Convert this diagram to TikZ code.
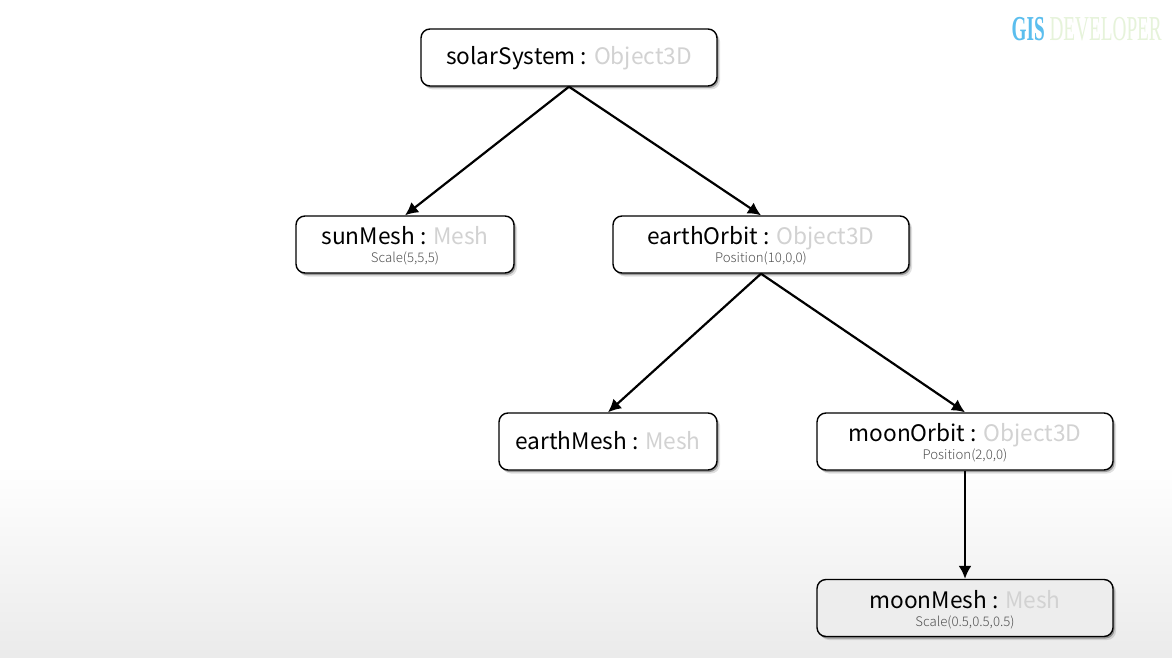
\documentclass[tikz,border=0pt]{standalone}
\usepackage{fontspec}
\setmainfont{Noto Sans CJK KR}
\newfontfamily\subfont{Noto Sans CJK KR Light}
\newfontfamily\wmfont{Liberation Serif}
\usetikzlibrary{arrows.meta,shadows,fadings}
\definecolor{typegray}{HTML}{D2D2D2}
\definecolor{subgray}{HTML}{505050}
\definecolor{wmblue}{HTML}{5BBEEE}
\definecolor{wmgreen}{HTML}{E6F3DA}
\newcommand{\objname}[2]{\rule[-5pt]{0pt}{25pt}\smash{\fontsize{22.7}{26}\selectfont #1 : \textcolor{typegray}{#2}}}
\newcommand{\withsub}[3]{\vbox{\baselineskip=18pt\lineskiplimit=-100pt\halign{\hfil##\hfil\cr
  \rule{0pt}{20pt}\smash{\fontsize{22.7}{26}\selectfont #1 : \textcolor{typegray}{#2}}\cr
  \rule[-2pt]{0pt}{2pt}\smash{\subfont\fontsize{13.2}{16}\selectfont\color{subgray}#3}\cr}}}
\tikzset{
  x=1pt,y=-1pt,
  objbox/.style={draw=black,line width=1.4pt,rounded corners=9pt,fill=white,
    minimum height=57pt,inner sep=0pt,align=center,
    drop shadow={shadow xshift=3pt,shadow yshift=-3.5pt,opacity=.12,fill=black},
    drop shadow={shadow xshift=1.5pt,shadow yshift=-2pt,opacity=.3,fill=black}},
  wide/.style={objbox,minimum width=296pt},
  narrow/.style={objbox,minimum width=218pt},
  link/.style={draw=black,line width=2.2pt,-{Latex[length=13pt,width=13pt]}}
}
\begin{document}
\begin{tikzpicture}
\useasboundingbox (0,0) rectangle (1172,658);
\fill[white] (0,0) rectangle (1172,658);
\shade[top color=white,bottom color=black!8] (0,465) rectangle (1172,658);
\node[wide] (solar) at (569,57.5) {\objname{solarSystem}{Object3D}};
\node[narrow] (sun) at (405,244.5) {\withsub{sunMesh}{Mesh}{Scale(5,5,5)}};
\node[wide] (earthorbit) at (761,244.5) {\withsub{earthOrbit}{Object3D}{Position(10,0,0)}};
\node[narrow] (earthmesh) at (608,441.5) {\objname{earthMesh}{Mesh}};
\node[wide] (moonorbit) at (965,441.5) {\withsub{moonOrbit}{Object3D}{Position(2,0,0)}};
\node[wide,fill=black!7] (moonmesh) at (965,608) {\withsub{moonMesh}{Mesh}{Scale(0.5,0.5,0.5)}};
\draw[link] (solar.south) -- (sun.north);
\draw[link] (solar.south) -- (earthorbit.north);
\draw[link] (earthorbit.south) -- (earthmesh.north);
\draw[link] (earthorbit.south) -- (moonorbit.north);
\draw[link] (moonorbit.south) -- (moonmesh.north);
\node[inner sep=0pt,anchor=east] (wm) at (1162,29) {\wmfont\fontsize{35}{38}\selectfont\scalebox{0.55}[1]{\textcolor{wmblue}{\textbf{GIS}} \textcolor{wmgreen}{DEVELOPER}}};
\end{tikzpicture}
\end{document}
